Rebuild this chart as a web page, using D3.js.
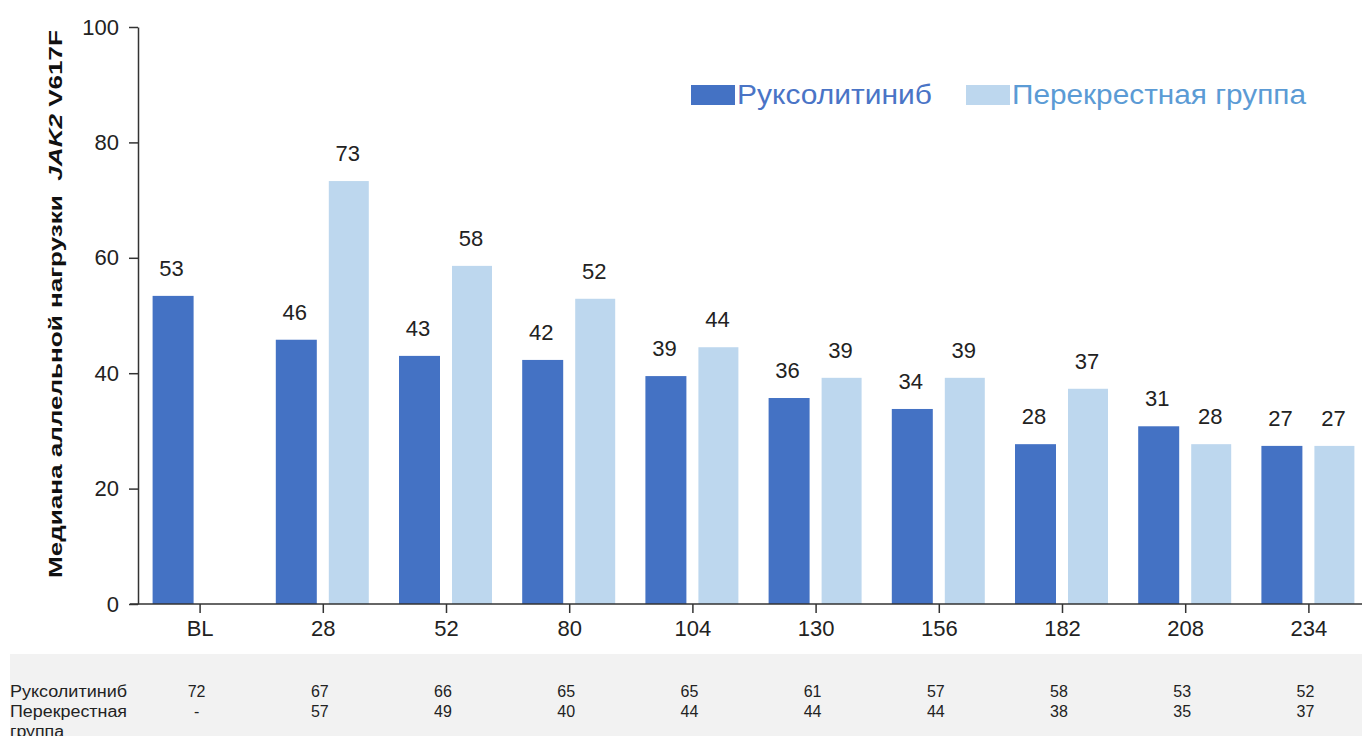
<!DOCTYPE html>
<html lang="ru">
<head>
<meta charset="UTF-8">
<title>JAK2 V617F</title>
<script src="https://d3js.org/d3.v7.min.js"></script>
<style>
    body, html { margin: 0; background: #fff; }
    svg { display: block; font-family: "Liberation Sans", Arial, sans-serif; }
</style>
</head>
<body>
<svg width="1362" height="736"></svg>
<script>
// данные
const weeks = ["BL", "28", "52", "80", "104", "130", "156", "182", "208", "234"];
const ruxValues = [53.4, 45.8, 43.0, 42.3, 39.5, 35.7, 33.8, 27.7, 30.8, 27.4];
const crossValues = [null, 73.3, 58.6, 52.9, 44.5, 39.2, 39.2, 37.3, 27.7, 27.4];
const ruxLabels = ["53", "46", "43", "42", "39", "36", "34", "28", "31", "27"];
const crossLabels = ["", "73", "58", "52", "44", "39", "39", "37", "28", "27"];
const ruxN = ["72", "67", "66", "65", "65", "61", "57", "58", "53", "52"];
const crossN = ["-", "57", "49", "40", "44", "44", "44", "38", "35", "37"];
const yTicks = [0, 20, 40, 60, 80, 100];

const darkBlue = "#4472c4", lightBlue = "#bdd7ee";

const svg = d3.select("svg");
const x0 = 138, yTop = 27, yBottom = 604;

const x = d3.scalePoint().domain(weeks).range([x0, x0 + 123.2 * 10]).padding(0.5);
const y = d3.scaleLinear().domain([0, 100]).range([yBottom, yTop]);

// столбцы
const groups = svg.selectAll("g.grp").data(weeks).enter().append("g").attr("class", "grp");
groups.append("rect")
    .attr("x", d => x(d) - 47).attr("width", 41)
    .attr("y", (d, i) => y(ruxValues[i]))
    .attr("height", (d, i) => yBottom - y(ruxValues[i]))
    .attr("fill", darkBlue);
groups.filter((d, i) => crossValues[i] != null).append("rect")
    .attr("x", d => x(d) + 6).attr("width", 40)
    .attr("y", d => y(crossValues[weeks.indexOf(d)]))
    .attr("height", d => yBottom - y(crossValues[weeks.indexOf(d)]))
    .attr("fill", lightBlue);

// подписи значений
groups.append("text")
    .attr("x", d => x(d) - 28)
    .attr("y", (d, i) => y(ruxValues[i]) - 20)
    .attr("text-anchor", "middle").attr("font-size", 22).attr("fill", "#222")
    .text((d, i) => ruxLabels[i]);
groups.append("text")
    .attr("x", d => x(d) + 25)
    .attr("y", (d, i) => crossValues[i] == null ? 0 : y(crossValues[i]) - 20)
    .attr("text-anchor", "middle").attr("font-size", 22).attr("fill", "#222")
    .text((d, i) => crossLabels[i]);

// оси
const yAxis = svg.append("g").attr("transform", `translate(${x0},0)`)
    .call(d3.axisLeft(y).tickValues(yTicks).tickSize(9).tickPadding(10).tickSizeOuter(0));
yAxis.select(".domain").attr("stroke", "#333").attr("stroke-width", 1.5);
yAxis.selectAll(".tick line").attr("stroke", "#333").attr("stroke-width", 1.5);
yAxis.selectAll(".tick text").attr("font-size", 22).attr("fill", "#222").attr("font-family", "Liberation Sans, Arial");

const xAxis = svg.append("g").attr("transform", `translate(0,${yBottom})`)
    .call(d3.axisBottom(x).tickSize(9).tickPadding(7).tickSizeOuter(0));
xAxis.select(".domain").attr("d", `M${x0 - 8},0H1362`).attr("stroke", "#333").attr("stroke-width", 1.5);
xAxis.selectAll(".tick line").attr("stroke", "#333").attr("stroke-width", 1.5);
xAxis.selectAll(".tick text").attr("font-size", 22).attr("fill", "#222").attr("font-family", "Liberation Sans, Arial");

// заголовок оси Y
const yt = svg.append("text")
    .attr("transform", "translate(62,304) rotate(-90)")
    .attr("text-anchor", "middle").attr("font-size", 19).attr("font-weight", "bold").attr("fill", "#111")
    .attr("textLength", 548).attr("lengthAdjust", "spacingAndGlyphs");
yt.append("tspan").text("Медиана аллельной нагрузки\u00a0\u00a0");
yt.append("tspan").attr("font-style", "italic").text("JAK2");
yt.append("tspan").text(" V617F");

// легенда
const legend = [
    { name: "Руксолитиниб", fill: darkBlue, color: "#4a74c6", x: 691, len: 195 },
    { name: "Перекрестная группа", fill: lightBlue, color: "#5b9bd5", x: 966, len: 294 }
];
const lg = svg.selectAll("g.leg").data(legend).enter().append("g").attr("class", "leg");
lg.append("rect").attr("x", d => d.x).attr("y", 85).attr("width", 44).attr("height", 20).attr("fill", d => d.fill);
lg.append("text").attr("x", d => d.x + 46).attr("y", 104)
    .attr("font-size", 27).attr("fill", d => d.color)
    .attr("textLength", d => d.len).attr("lengthAdjust", "spacingAndGlyphs")
    .text(d => d.name);

// таблица числа пациентов
svg.append("rect").attr("x", 10).attr("y", 654).attr("width", 1352).attr("height", 82).attr("fill", "#f2f2f2");
const rowLabels = [["Руксолитиниб", 697, 117], ["Перекрестная", 717, 117], ["группа", 737, 54]];
svg.selectAll("text.rowlab").data(rowLabels).enter().append("text")
    .attr("class", "rowlab").attr("x", 10).attr("y", d => d[1])
    .attr("font-size", 16).attr("fill", "#222")
    .attr("textLength", d => d[2]).attr("lengthAdjust", "spacingAndGlyphs")
    .text(d => d[0]);
svg.selectAll("text.nr").data(weeks).enter().append("text")
    .attr("x", d => x(d) - 3).attr("y", 697).attr("text-anchor", "middle")
    .attr("font-size", 16).attr("fill", "#222").text((d, i) => ruxN[i]);
svg.selectAll("text.nc").data(weeks).enter().append("text")
    .attr("x", d => x(d) - 3).attr("y", 717).attr("text-anchor", "middle")
    .attr("font-size", 16).attr("fill", "#222").text((d, i) => crossN[i]);
</script>
</body>
</html>
